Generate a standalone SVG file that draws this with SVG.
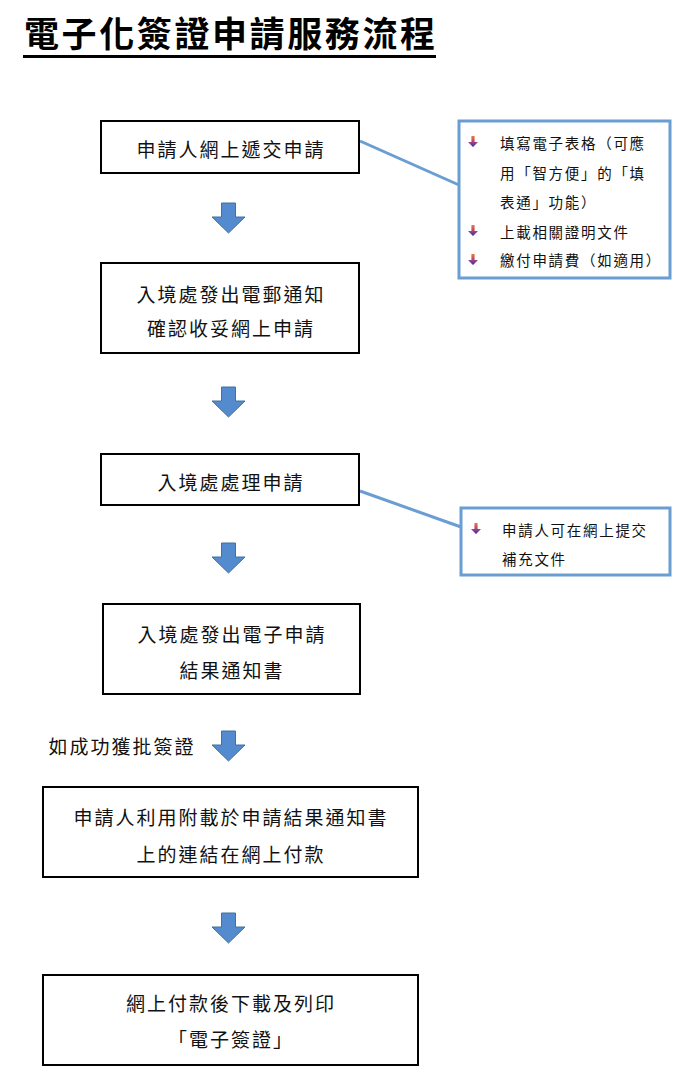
<svg xmlns="http://www.w3.org/2000/svg" width="674" height="1067" viewBox="0 0 674 1067">
<style>
.box{fill:#fff;stroke:#000;stroke-width:2}
.t{font-family:"Noto Sans CJK TC","Noto Sans CJK SC",sans-serif;font-size:19px;letter-spacing:2px;fill:#111;text-anchor:middle;dominant-baseline:central}
.s{font-family:"Noto Sans CJK TC","Noto Sans CJK SC",sans-serif;font-size:14.5px;letter-spacing:1.7px;fill:#111;dominant-baseline:central}
.title{font-family:"Noto Sans CJK TC","Noto Sans CJK SC",sans-serif;font-size:35px;font-weight:bold;letter-spacing:2.6px;fill:#000}
.call{fill:#fff;stroke:#6A9ED2;stroke-width:3}
.conn{stroke:#6A9ED2;stroke-width:3;fill:none}
.arr{fill:#548BCE;stroke:#41719C;stroke-width:1}
</style>
<defs>
<linearGradient id="bg" x1="0" y1="0" x2="0" y2="1">
<stop offset="0" stop-color="#F07838"/>
<stop offset="0.45" stop-color="#C04870"/>
<stop offset="1" stop-color="#2E30B0"/>
</linearGradient>
<path id="arrow" d="M-7,0 H7 V14 H16.5 L0,30 L-16.5,14 H-7 Z"/>
<path id="bul" d="M-1.6,-6 H1.6 V0 H5 L0,5 L-5,0 H-1.6 Z"/>
</defs>
<rect width="674" height="1067" fill="#fff"/>
<g id="title">
<text class="title" x="24" y="47">電子化簽證申請服務流程</text>
<rect x="23" y="55" width="413" height="3" fill="#000"/>
</g>
<g id="connectors">
<line class="conn" x1="360" y1="141" x2="459" y2="185"/>
<line class="conn" x1="360" y1="491" x2="461" y2="527"/>
<use href="#arrow" class="arr" x="228.5" y="203"/>
<use href="#arrow" class="arr" x="228.5" y="387"/>
<use href="#arrow" class="arr" x="228.5" y="543"/>
<use href="#arrow" class="arr" x="228.5" y="731"/>
<use href="#arrow" class="arr" x="228.5" y="913"/>
<text class="t" x="122" y="745">如成功獲批簽證</text>
</g>
<g id="n1">
<rect class="box" x="101" y="121" width="258" height="52"/>
<text class="t" x="231" y="148">申請人網上遞交申請</text>
</g>
<g id="n2">
<rect class="box" x="101" y="263" width="258" height="90"/>
<text class="t" x="231" y="293">入境處發出電郵通知</text>
<text class="t" x="231" y="327">確認收妥網上申請</text>
</g>
<g id="n3">
<rect class="box" x="101" y="454" width="258" height="51"/>
<text class="t" x="231" y="481">入境處處理申請</text>
</g>
<g id="n4">
<rect class="box" x="103" y="604" width="257" height="90"/>
<text class="t" x="232" y="633">入境處發出電子申請</text>
<text class="t" x="232" y="669">結果通知書</text>
</g>
<g id="n5">
<rect class="box" x="43" y="787" width="375" height="90"/>
<text class="t" x="231" y="816">申請人利用附載於申請結果通知書</text>
<text class="t" x="231" y="853">上的連結在網上付款</text>
</g>
<g id="n6">
<rect class="box" x="43" y="975" width="375" height="90"/>
<text class="t" x="231" y="1002">網上付款後下載及列印</text>
<text class="t" x="231" y="1038">「電子簽證」</text>
</g>
<g id="c1">
<rect class="call" x="459" y="121" width="211" height="157"/>
<use href="#bul" fill="url(#bg)" x="473" y="142"/>
<use href="#bul" fill="url(#bg)" x="473" y="231"/>
<use href="#bul" fill="url(#bg)" x="473" y="260"/>
<text class="s" x="500" y="142">填寫電子表格（可應</text>
<text class="s" x="500" y="172">用「智方便」的「填</text>
<text class="s" x="500" y="201">表通」功能）</text>
<text class="s" x="500" y="231">上載相關證明文件</text>
<text class="s" x="500" y="259">繳付申請費（如適用）</text>
</g>
<g id="c2">
<rect class="call" x="461" y="508" width="209" height="67"/>
<use href="#bul" fill="url(#bg)" x="476" y="529"/>
<text class="s" x="502" y="529">申請人可在網上提交</text>
<text class="s" x="502" y="558">補充文件</text>
</g>
</svg>
